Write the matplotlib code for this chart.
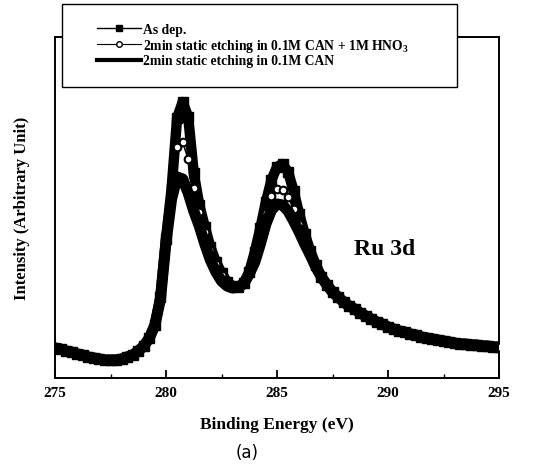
import matplotlib
matplotlib.use("Agg")
import matplotlib.pyplot as plt
from matplotlib.lines import Line2D
from matplotlib.patches import Rectangle
import numpy as np

plt.rcParams['font.family'] = ['Liberation Serif', 'DejaVu Serif']
plt.rcParams['mathtext.fontset'] = 'custom'
plt.rcParams['mathtext.rm'] = 'Liberation Serif:bold'
plt.rcParams['mathtext.bf'] = 'Liberation Serif:bold'
plt.rcParams['mathtext.it'] = 'Liberation Serif:bold'

# Binding energy grid (eV)
energy = np.arange(275.0, 295.0001, 0.25)

# Intensity (arbitrary units)
as_dep = [30, 29, 27, 26, 24, 23, 21, 20, 19, 18, 18, 18, 19, 21, 23, 27,
          32, 40, 53, 81, 139, 189, 260, 276, 261, 205, 173, 151, 131, 116,
          105, 96, 92, 91, 95, 106, 126, 150, 176, 198, 211, 214, 206, 187,
          164, 144, 127, 113, 101, 93, 86, 81, 76, 72, 69, 65, 62, 59, 56,
          54, 51, 49, 47, 46, 44, 43, 41, 40, 39, 38, 37, 36, 35, 34, 34,
          33, 33, 32, 32, 31, 31]
can_hno3 = [30, 29, 27, 26, 24, 23, 21, 20, 19, 18, 18, 18, 19, 21, 23, 27,
            32, 40, 53, 80, 137, 184, 231, 236, 219, 190, 166, 146, 128, 114,
            103, 95, 91, 91, 95, 106, 122, 143, 165, 182, 189, 188, 181, 169,
            154, 139, 124, 111, 100, 93, 86, 81, 76, 72, 69, 65, 62, 59, 56,
            54, 51, 49, 47, 46, 44, 43, 41, 40, 39, 38, 37, 36, 35, 34, 34,
            33, 33, 32, 32, 31, 31]
can = [30, 29, 27, 26, 24, 23, 21, 20, 19, 18, 18, 18, 19, 21, 23, 27,
       32, 40, 53, 79, 136, 179, 201, 199, 185, 167, 152, 134, 118, 106,
       97, 92, 90, 91, 94, 104, 116, 134, 154, 168, 174, 173, 167, 157,
       146, 134, 123, 111, 101, 93, 86, 81, 76, 72, 69, 65, 62, 59, 56,
       54, 51, 49, 47, 46, 44, 43, 41, 40, 39, 38, 37, 36, 35, 34, 34,
       33, 33, 32, 32, 31, 31]

labels = ["As dep.",
          r"2min static etching in 0.1M CAN + 1M HNO$_3$",
          "2min static etching in 0.1M CAN"]

W, H = 555, 477
fig = plt.figure(figsize=(W / 100, H / 100), dpi=100)
ax = fig.add_axes([55 / W, 1 - 379 / H, 444 / W, 341 / H])

ax.plot(energy, as_dep, color='black', lw=7.5, marker='s', ms=7,
        solid_capstyle='round', solid_joinstyle='round', zorder=2)
ax.plot(energy, can_hno3, color='black', lw=1.2, marker='o', ms=5.5,
        mfc='white', mec='black', mew=1.5, zorder=3)
ax.plot(energy, can, color='black', lw=8, solid_capstyle='round',
        solid_joinstyle='round', zorder=4)

ax.set_xlim(275, 295)
ax.set_ylim(0, 341)
ax.set_xticks([275, 280, 285, 290, 295])
ax.set_xticks(np.arange(275, 295.1, 2.5), minor=True)
ax.set_yticks([])
ax.tick_params(axis='x', which='major', direction='in', length=6, width=1.3,
               pad=6, labelsize=11)
ax.tick_params(axis='x', which='minor', direction='in', length=3, width=1.0)
for lab in ax.get_xticklabels():
    lab.set_fontweight('bold')
for s in ax.spines.values():
    s.set_linewidth(1.4)

ax.set_xlabel("Binding Energy (eV)", fontsize=12.5, fontweight='bold',
              labelpad=12)
ax.set_ylabel("Intensity (Arbitrary Unit)", fontsize=12, fontweight='bold',
              labelpad=18)

ax.text(289.85, 129, "Ru 3d", fontsize=17, fontweight='bold',
        ha='center', va='center')

fig.text(247 / W, 1 - 453 / H, "(a)", fontsize=12, family='DejaVu Sans',
         ha='center', va='center')

# Legend box on top of the axes
fig.add_artist(Rectangle((62 / W, 1 - 88 / H), 395 / W, 83 / H,
                         transform=fig.transFigure, facecolor='white',
                         edgecolor='black', lw=1.0, zorder=4))
handles = [Line2D([], [], color='black', lw=1, marker='s', ms=5),
           Line2D([], [], color='black', lw=0.8, marker='o', ms=4,
                  mfc='white', mec='black'),
           Line2D([], [], color='black', lw=3)]
leg = fig.legend(handles, labels, loc='upper left',
                 bbox_to_anchor=(97 / W, 1 - 24 / H),
                 bbox_transform=fig.transFigure, frameon=False,
                 borderpad=0, borderaxespad=0, labelspacing=0.05,
                 handlelength=3.2, handletextpad=0.2,
                 prop={'weight': 'bold', 'size': 9.8})
leg.set_zorder(5)

fig.savefig("out.png", dpi=100)
